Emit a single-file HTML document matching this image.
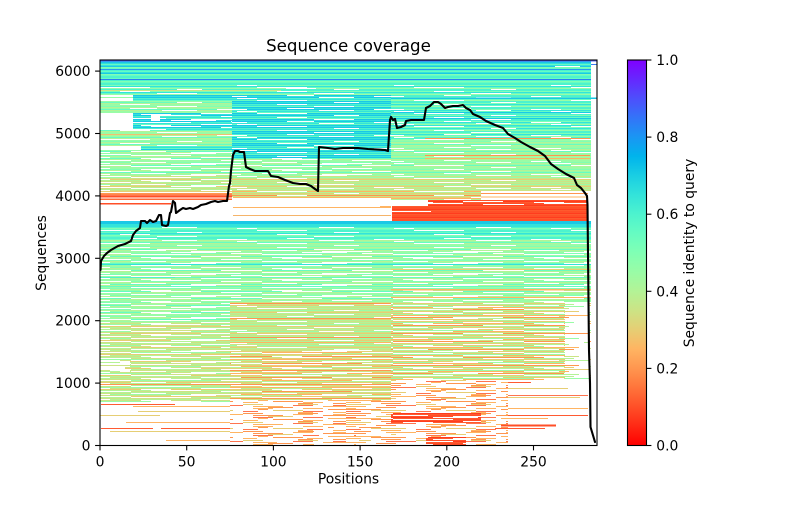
<!DOCTYPE html>
<html>
<head>
<meta charset="utf-8">
<style>
  html, body { margin:0; padding:0; background:#ffffff; }
  body { width:800px; height:500px; overflow:hidden; }
  svg text { font-family: "DejaVu Sans", "Liberation Sans", sans-serif; fill:#000; }
</style>
</head>
<body>
<svg width="800" height="500" viewBox="0 0 800 500" xmlns="http://www.w3.org/2000/svg">
<defs>
  <clipPath id="plotclip"><rect x="100" y="60" width="497" height="385.5"/></clipPath>

  <pattern id="Ptop" width="1" height="7" patternUnits="userSpaceOnUse">
    <rect x="0" y="0" width="1" height="1" fill="#4df3ce"/>
    <rect x="0" y="1" width="1" height="1" fill="#66fcc2"/>
    <rect x="0" y="2" width="1" height="1" fill="#33e3da"/>
    <rect x="0" y="3" width="1" height="1" fill="#4df3ce"/>
    <rect x="0" y="4" width="1" height="1" fill="#80ffb4"/>
    <rect x="0" y="5" width="1" height="1" fill="#66fcc2"/>
    <rect x="0" y="6" width="1" height="1" fill="#4df3ce"/>
  </pattern>
  <pattern id="Pcyan" width="1" height="6" patternUnits="userSpaceOnUse">
    <rect x="0" y="0" width="1" height="1" fill="#33e3da"/>
    <rect x="0" y="1" width="1" height="1" fill="#1ac8e6"/>
    <rect x="0" y="2" width="1" height="1" fill="#4df3ce"/>
    <rect x="0" y="3" width="1" height="1" fill="#33e3da"/>
    <rect x="0" y="4" width="1" height="1" fill="#66fcc2"/>
    <rect x="0" y="5" width="1" height="1" fill="#1ac8e6"/>
  </pattern>
  <pattern id="Paqua" width="1" height="6" patternUnits="userSpaceOnUse">
    <rect x="0" y="0" width="1" height="1" fill="#4df3ce"/>
    <rect x="0" y="1" width="1" height="1" fill="#80ffb4"/>
    <rect x="0" y="2" width="1" height="1" fill="#33e3da"/>
    <rect x="0" y="3" width="1" height="1" fill="#66fcc2"/>
    <rect x="0" y="4" width="1" height="1" fill="#99fca6"/>
    <rect x="0" y="5" width="1" height="1" fill="#4df3ce"/>
  </pattern>
  <pattern id="Pgreen" width="1" height="7" patternUnits="userSpaceOnUse">
    <rect x="0" y="0" width="1" height="1" fill="#99fca6"/>
    <rect x="0" y="1" width="1" height="1" fill="#80ffb4"/>
    <rect x="0" y="2" width="1" height="1" fill="#b3f396"/>
    <rect x="0" y="3" width="1" height="1" fill="#99fca6"/>
    <rect x="0" y="4" width="1" height="1" fill="#66fcc2"/>
    <rect x="0" y="5" width="1" height="1" fill="#b3f396"/>
    <rect x="0" y="6" width="1" height="1" fill="#99fca6"/>
  </pattern>
  <pattern id="Pyg" width="1" height="7" patternUnits="userSpaceOnUse">
    <rect x="0" y="0" width="1" height="1" fill="#b3f396"/>
    <rect x="0" y="1" width="1" height="1" fill="#cce385"/>
    <rect x="0" y="2" width="1" height="1" fill="#99fca6"/>
    <rect x="0" y="3" width="1" height="1" fill="#cce385"/>
    <rect x="0" y="4" width="1" height="1" fill="#e6ce74"/>
    <rect x="0" y="5" width="1" height="1" fill="#b3f396"/>
    <rect x="0" y="6" width="1" height="1" fill="#cce385"/>
  </pattern>
  <pattern id="Ptan" width="1" height="7" patternUnits="userSpaceOnUse">
    <rect x="0" y="0" width="1" height="1" fill="#cce385"/>
    <rect x="0" y="1" width="1" height="1" fill="#e6ce74"/>
    <rect x="0" y="2" width="1" height="1" fill="#ffb462"/>
    <rect x="0" y="3" width="1" height="1" fill="#b3f396"/>
    <rect x="0" y="4" width="1" height="1" fill="#e6ce74"/>
    <rect x="0" y="5" width="1" height="1" fill="#cce385"/>
    <rect x="0" y="6" width="1" height="1" fill="#ff964f"/>
  </pattern>
  <pattern id="Ptan2" width="1" height="8" patternUnits="userSpaceOnUse">
    <rect x="0" y="0" width="1" height="1" fill="#b3f396"/>
    <rect x="0" y="1" width="1" height="1" fill="#e6ce74"/>
    <rect x="0" y="2" width="1" height="1" fill="#99fca6"/>
    <rect x="0" y="3" width="1" height="1" fill="#ffb462"/>
    <rect x="0" y="4" width="1" height="1" fill="#cce385"/>
    <rect x="0" y="5" width="1" height="1" fill="#ff964f"/>
    <rect x="0" y="6" width="1" height="1" fill="#b3f396"/>
    <rect x="0" y="7" width="1" height="1" fill="#e6ce74"/>
  </pattern>
  <pattern id="Porange" width="1" height="6" patternUnits="userSpaceOnUse">
    <rect x="0" y="0" width="1" height="1" fill="#ffb462"/>
    <rect x="0" y="1" width="1" height="1" fill="#ff964f"/>
    <rect x="0" y="2" width="1" height="1" fill="#e6ce74"/>
    <rect x="0" y="3" width="1" height="1" fill="#ff744f"/>
    <rect x="0" y="4" width="1" height="1" fill="#ffb462"/>
    <rect x="0" y="5" width="1" height="1" fill="#ff964f"/>
  </pattern>
  <pattern id="Pred" width="1" height="4" patternUnits="userSpaceOnUse">
    <rect x="0" y="0" width="1" height="1" fill="#ff4f28"/>
    <rect x="0" y="1" width="1" height="1" fill="#ff3c1e"/>
    <rect x="0" y="2" width="1" height="1" fill="#ff5a2e"/>
    <rect x="0" y="3" width="1" height="1" fill="#ff4f28"/>
  </pattern>

  <pattern id="G1" width="157" height="13" patternUnits="userSpaceOnUse">
    <g fill="#ffffff">
      <rect x="0" y="2" width="40" height="1"/>
      <rect x="60" y="5" width="30" height="1"/>
      <rect x="100" y="9" width="50" height="1"/>
      <rect x="20" y="11" width="25" height="1"/>
      <rect x="120" y="0" width="30" height="1"/>
      <rect x="80" y="7" width="20" height="1"/>
      <rect x="130" y="4" width="27" height="1"/>
      <rect x="5" y="6" width="35" height="1"/>
    </g>
  </pattern>
  <pattern id="G2" width="131" height="11" patternUnits="userSpaceOnUse">
    <g fill="#ffffff">
      <rect x="0" y="1" width="60" height="1"/>
      <rect x="70" y="3" width="40" height="1"/>
      <rect x="20" y="5" width="50" height="1"/>
      <rect x="90" y="6" width="41" height="1"/>
      <rect x="0" y="8" width="35" height="1"/>
      <rect x="60" y="9" width="50" height="1"/>
      <rect x="100" y="0" width="31" height="1"/>
      <rect x="40" y="10" width="45" height="1"/>
      <rect x="10" y="4" width="30" height="1"/>
    </g>
  </pattern>
  <pattern id="G3" width="173" height="9" patternUnits="userSpaceOnUse">
    <g fill="#ffffff">
      <rect x="0" y="0" width="40" height="1"/><rect x="70" y="0" width="50" height="1"/><rect x="140" y="0" width="20" height="1"/>
      <rect x="20" y="1" width="60" height="1"/><rect x="110" y="1" width="40" height="1"/>
      <rect x="0" y="2" width="30" height="1"/><rect x="50" y="2" width="45" height="1"/><rect x="120" y="2" width="53" height="1"/>
      <rect x="10" y="3" width="70" height="1"/><rect x="100" y="3" width="30" height="1"/><rect x="150" y="3" width="23" height="1"/>
      <rect x="35" y="4" width="50" height="1"/><rect x="95" y="4" width="60" height="1"/>
      <rect x="0" y="5" width="25" height="1"/><rect x="60" y="5" width="40" height="1"/><rect x="130" y="5" width="43" height="1"/>
      <rect x="15" y="6" width="55" height="1"/><rect x="85" y="6" width="45" height="1"/><rect x="150" y="6" width="23" height="1"/>
      <rect x="0" y="7" width="35" height="1"/><rect x="55" y="7" width="70" height="1"/><rect x="140" y="7" width="20" height="1"/>
      <rect x="25" y="8" width="45" height="1"/><rect x="90" y="8" width="35" height="1"/><rect x="145" y="8" width="28" height="1"/>
    </g>
  </pattern>

  <linearGradient id="cbar" x1="0" y1="1" x2="0" y2="0">
    <stop offset="0" stop-color="rgb(255,0,0)"/>
    <stop offset="0.05" stop-color="rgb(255,40,20)"/>
    <stop offset="0.1" stop-color="rgb(255,79,40)"/>
    <stop offset="0.15" stop-color="rgb(255,116,59)"/>
    <stop offset="0.2" stop-color="rgb(255,150,79)"/>
    <stop offset="0.25" stop-color="rgb(255,180,98)"/>
    <stop offset="0.3" stop-color="rgb(230,206,116)"/>
    <stop offset="0.35" stop-color="rgb(204,227,133)"/>
    <stop offset="0.4" stop-color="rgb(179,243,150)"/>
    <stop offset="0.45" stop-color="rgb(153,252,166)"/>
    <stop offset="0.5" stop-color="rgb(128,255,180)"/>
    <stop offset="0.55" stop-color="rgb(102,252,194)"/>
    <stop offset="0.6" stop-color="rgb(77,243,206)"/>
    <stop offset="0.65" stop-color="rgb(51,227,218)"/>
    <stop offset="0.7" stop-color="rgb(26,206,227)"/>
    <stop offset="0.75" stop-color="rgb(0,180,236)"/>
    <stop offset="0.8" stop-color="rgb(26,150,243)"/>
    <stop offset="0.85" stop-color="rgb(51,116,248)"/>
    <stop offset="0.9" stop-color="rgb(77,79,252)"/>
    <stop offset="0.95" stop-color="rgb(102,40,254)"/>
    <stop offset="1" stop-color="rgb(128,0,255)"/>
  </linearGradient>
</defs>

<rect x="0" y="0" width="800" height="500" fill="#ffffff"/>

<g clip-path="url(#plotclip)" shape-rendering="crispEdges">
  <!-- TOP BAND -->
  <rect x="100" y="60" width="497" height="1.5" fill="#5560f7"/>
  <rect x="100" y="61.5" width="491" height="2" fill="#1ac8e6"/>
  <rect x="100" y="63.5" width="491" height="21.5" fill="url(#Ptop)"/>
  <rect x="100" y="66" width="491" height="1" fill="#1ac8e6"/>
  <rect x="100" y="69" width="491" height="1" fill="#2a96f0"/>
  <rect x="100" y="73" width="491" height="1" fill="#1ac8e6"/>
  <rect x="100" y="79" width="491" height="1" fill="#2a80f0"/>
  <rect x="591" y="64" width="6" height="1" fill="#3a7af2"/>
  <rect x="100" y="85" width="491" height="10" fill="url(#Paqua)"/>
  <rect x="100" y="85" width="491" height="10" fill="url(#G1)"/>
  <rect x="100" y="90" width="181" height="1" fill="#cce385"/>
  <rect x="286" y="88" width="30" height="1" fill="#ffffff"/>
  <rect x="555" y="66" width="25" height="1" fill="#ffffff"/>

  <!-- UPPER LEFT BLOCK (pos 0-76) -->
  <rect x="100" y="95" width="33" height="6" fill="#ffffff"/>
  <rect x="100" y="97" width="33" height="1" fill="#99fca6"/>
  <rect x="133" y="95" width="99" height="6" fill="url(#Pcyan)"/>
  <rect x="100" y="101" width="132" height="12" fill="url(#Pgreen)"/>
  <rect x="100" y="101" width="132" height="12" fill="url(#G1)"/>
  <rect x="100" y="113" width="33" height="17" fill="#ffffff"/>
  <rect x="133" y="113" width="99" height="17" fill="url(#Pcyan)"/>
  <rect x="133" y="113" width="99" height="17" fill="url(#G2)"/>
  <rect x="151" y="115" width="9" height="6" fill="#ffffff"/>
  <rect x="100" y="130" width="132" height="16" fill="url(#Pgreen)"/>
  <rect x="100" y="130" width="132" height="16" fill="url(#G1)"/>
  <rect x="100" y="134" width="132" height="1" fill="#f0c070"/>
  <rect x="100" y="146" width="41" height="4" fill="#ffffff"/>
  <rect x="141" y="146" width="91" height="4" fill="url(#Pcyan)"/>
  <rect x="100" y="150" width="132" height="25" fill="url(#Pgreen)"/>
  <rect x="100" y="150" width="132" height="25" fill="url(#G2)"/>
  <rect x="100" y="175" width="132" height="16" fill="url(#Pyg)"/>
  <rect x="100" y="175" width="132" height="16" fill="url(#G2)"/>
  <rect x="100" y="191" width="136" height="2" fill="#ffffff"/>
  <rect x="100" y="191" width="136" height="1" fill="#e6ce74"/>
  <rect x="100" y="193" width="136" height="1.5" fill="#ff964f"/>
  <rect x="100" y="194.5" width="136" height="1.5" fill="#ff744f"/>
  <rect x="100" y="196" width="136" height="1.5" fill="#ff4f28"/>
  <rect x="100" y="198.5" width="136" height="1.5" fill="#ff6a3a"/>
  <rect x="100" y="200" width="132" height="21" fill="#ffffff"/>
  <rect x="100" y="203" width="71" height="1.5" fill="#ff4f28"/>

  <!-- MIDDLE (pos 76-168) -->
  <rect x="232" y="95" width="159" height="63" fill="url(#Pcyan)"/>
  <rect x="232" y="95" width="159" height="63" fill="url(#G1)"/>
  <rect x="232" y="158" width="159" height="18" fill="url(#Pgreen)"/>
  <rect x="232" y="158" width="159" height="18" fill="url(#G2)"/>
  <rect x="232" y="176" width="159" height="15" fill="url(#Pyg)"/>
  <rect x="232" y="176" width="159" height="15" fill="url(#G1)"/>
  <rect x="232" y="191" width="159" height="6" fill="url(#Ptan)"/>
  <rect x="232" y="191" width="159" height="6" fill="url(#G1)"/>
  <rect x="232" y="197" width="159" height="24" fill="#ffffff"/>
  <rect x="233" y="197" width="158" height="1" fill="#ffb462"/>
  <rect x="233" y="207" width="158" height="1" fill="#ffb462"/>
  <rect x="233" y="215" width="158" height="1" fill="#f5b46a"/>

  <!-- RIGHT (pos 168-283) -->
  <rect x="391" y="95" width="200" height="45" fill="url(#Paqua)"/>
  <rect x="391" y="95" width="200" height="45" fill="url(#G1)"/>
  <rect x="391" y="97.5" width="206" height="1.5" fill="#1ac8e6"/>
  <rect x="391" y="112" width="200" height="1" fill="#1ac8e6"/>
  <rect x="391" y="118" width="200" height="1" fill="#1ac8e6"/>
  <rect x="391" y="125" width="200" height="1" fill="#33e3da"/>
  <rect x="391" y="140" width="200" height="36" fill="url(#Pgreen)"/>
  <rect x="391" y="140" width="200" height="36" fill="url(#G1)"/>
  <rect x="425" y="138" width="165" height="1" fill="#ff964f"/>
  <rect x="425" y="155" width="165" height="1" fill="#ff964f"/>
  <rect x="425" y="158" width="165" height="1" fill="#ffb462"/>
  <rect x="391" y="176" width="200" height="15" fill="url(#Pyg)"/>
  <rect x="391" y="176" width="200" height="15" fill="url(#G1)"/>
  <rect x="391" y="191" width="90" height="9" fill="url(#Ptan)"/>
  <rect x="391" y="191" width="90" height="9" fill="url(#G1)"/>
  <rect x="481" y="191" width="110" height="9" fill="#ffffff"/>
  <rect x="481" y="193" width="107" height="1" fill="#ff964f"/>
  <rect x="481" y="196.5" width="107" height="1" fill="#ffb462"/>
  <rect x="391" y="200" width="37" height="6" fill="#ffffff"/>
  <rect x="428" y="200" width="160" height="6" fill="url(#Pred)"/>
  <rect x="428" y="200" width="160" height="6" fill="url(#G2)"/>
  <rect x="392" y="206" width="196" height="15" fill="url(#Pred)"/>
  <rect x="588" y="200" width="3" height="21" fill="#ffffff"/>
  <rect x="391" y="211" width="40" height="1" fill="#ffffff"/>
  <rect x="380" y="206" width="11" height="1" fill="#ffb462"/>

  <!-- CYAN BAND -->
  <rect x="100" y="221" width="491" height="3" fill="#1ac8e6"/>
  <rect x="100" y="224" width="491" height="3" fill="#33e3da"/>
  <rect x="100" y="227" width="491" height="23" fill="url(#Ptop)"/>
  <rect x="100" y="227" width="491" height="23" fill="url(#G1)"/>
  <rect x="100" y="240" width="491" height="10" fill="url(#Pgreen)"/>
  <rect x="100" y="240" width="491" height="10" fill="url(#G1)"/>

  <!-- LOWER -->
  <rect x="100" y="250" width="491" height="14" fill="url(#Pgreen)"/>
  <rect x="100" y="250" width="491" height="14" fill="url(#G2)"/>
  <rect x="100" y="264" width="491" height="1" fill="#33e3da"/>
  <rect x="100" y="265" width="491" height="37" fill="url(#Pgreen)"/>
  <rect x="100" y="265" width="491" height="37" fill="url(#G2)"/>
  <rect x="100" y="277" width="75" height="1" fill="#4df3ce"/>
  <rect x="100" y="286" width="491" height="1" fill="#66fcc2"/>
  <rect x="391" y="289" width="200" height="1.5" fill="#ffb462"/>
  <rect x="391" y="297" width="200" height="1" fill="#ffb462"/>
  <rect x="391" y="269" width="200" height="1" fill="#e6ce74"/>

  <rect x="100" y="302" width="130" height="20" fill="url(#Pgreen)"/>
  <rect x="100" y="302" width="130" height="20" fill="url(#G2)"/>
  <rect x="100" y="322" width="130" height="28" fill="url(#Pyg)"/>
  <rect x="100" y="322" width="130" height="28" fill="url(#G2)"/>
  <rect x="230" y="302" width="161" height="48" fill="url(#Pyg)"/>
  <rect x="230" y="302" width="161" height="48" fill="url(#G1)"/>
  <rect x="230" y="303" width="161" height="1" fill="#ff964f"/>
  <rect x="230" y="318" width="161" height="1" fill="#ff964f"/>
  <rect x="230" y="337" width="161" height="1" fill="#ff964f"/>
  <rect x="230" y="342" width="161" height="1" fill="#ffb462"/>
  <rect x="391" y="302" width="200" height="78" fill="url(#Ptan2)"/>
  <rect x="391" y="302" width="200" height="78" fill="url(#G2)"/>
  <rect x="565" y="302" width="26" height="78" fill="url(#G3)"/>

  <rect x="100" y="350" width="130" height="33" fill="url(#Pyg)"/>
  <rect x="100" y="350" width="130" height="33" fill="url(#G2)"/>
  <rect x="100" y="360" width="30" height="12" fill="url(#G3)"/>
  <rect x="230" y="350" width="161" height="50" fill="url(#Ptan)"/>
  <rect x="230" y="350" width="161" height="50" fill="url(#G2)"/>
  <rect x="100" y="383" width="130" height="19" fill="url(#Pyg)"/>
  <rect x="100" y="383" width="130" height="19" fill="url(#G2)"/>
  <rect x="100" y="384" width="291" height="1.2" fill="#ff964f"/>

  <!-- sparse lower-left -->
  <rect x="100" y="402" width="130" height="44" fill="#ffffff"/>
  <rect x="101" y="404" width="74" height="1" fill="#ff5a32"/>
  <rect x="133" y="406" width="97" height="1" fill="#ffb462"/>
  <rect x="138" y="411" width="92" height="1" fill="#e6ce74"/>
  <rect x="126" y="422" width="104" height="1" fill="#ffb462"/>
  <rect x="101" y="428" width="52" height="1" fill="#ff5a32"/>
  <rect x="161" y="428" width="70" height="1" fill="#ff5a32"/>
  <rect x="110" y="431" width="120" height="1" fill="#e6ce74"/>
  <rect x="166" y="440" width="64" height="1" fill="#ffb462"/>
  <rect x="100" y="415" width="60" height="1" fill="#e6ce74"/>

  <!-- sparse lower-middle -->
  <rect x="230" y="400" width="161" height="46" fill="url(#Porange)"/>
  <rect x="230" y="400" width="161" height="46" fill="url(#G3)"/>
  <rect x="230" y="425" width="161" height="21" fill="url(#G1)"/>

  <!-- lower-right -->
  <rect x="391" y="380" width="117" height="66" fill="url(#Porange)"/>
  <rect x="391" y="380" width="117" height="66" fill="url(#G3)"/>
  <rect x="391" y="413" width="90" height="10" fill="url(#Pred)"/>
  <rect x="391" y="413" width="90" height="10" fill="url(#G2)"/>
  <rect x="426" y="437" width="40" height="9" fill="url(#Pred)"/>
  <rect x="426" y="437" width="40" height="9" fill="url(#G2)"/>
  <rect x="508" y="380" width="83" height="66" fill="#ffffff"/>
  <rect x="508" y="382" width="23" height="1" fill="#ff5a32"/>
  <rect x="508" y="395" width="80" height="1" fill="#ff744f"/>
  <rect x="508" y="397" width="72" height="1" fill="#e6ce74"/>
  <rect x="508" y="408" width="80" height="1" fill="#ffb462"/>
  <rect x="508" y="415" width="80" height="1" fill="#ff5a32"/>
  <rect x="508" y="418" width="40" height="1" fill="#ffb462"/>
  <rect x="501" y="424.5" width="55" height="2" fill="#ff4f28"/>
  <rect x="495" y="428" width="50" height="1" fill="#ff5a32"/>
  <rect x="508" y="388" width="60" height="1" fill="#e6ce74"/>
</g>

<!-- coverage line -->
<polyline fill="none" stroke="#000000" stroke-width="2.1" stroke-linejoin="round" stroke-linecap="round"
 points="100.5,270 101,261 104,256 107,253 111,250 118,246 125,244 131,241 133,235 136,231 140,228 141,221 145,221 147,223 150,220 153,222 156,221 159,215 161,215 162,225 166,226 168,225 170,213 171,212 173,201 175,203 176,213 180,210 183,208 186,209 190,208 193,209 198,207 201,205 206,204 211,202 215,201 218,202 223,201 227,201 229,186 230,183 231,171 233,155 235,151 238,151 240,152 244,152 246,167 250,169 255,171 261,171 268,171 271,176 278,177 285,180 293,183 300,184 306,184 311,186 315,189 318,191 319,147 328,148 335,149 343,148 358,148 368,149 385,150 388,151 390,120 391,117 393,120 395,119 397,128 401,127 405,125 406,121 411,120 424,120 426,108 430,106 434,102 438,102 441,104 445,108 448,107 453,106 458,106 463,105 466,108 470,110 473,114 480,117 486,121 495,125 503,128 508,134 515,138 521,142 530,147 538,151 545,156 551,164 558,169 566,174 574,178 577,185 581,188 585,193 587,196 587.5,205 588,253 589,350 590,383 590.5,427 595,442"/>

<!-- axes frame -->
<rect x="100" y="60" width="497" height="385.5" fill="none" stroke="#000" stroke-width="1.1"/>

<!-- ticks -->
<g stroke="#000" stroke-width="1.1">
  <line x1="100" y1="445.5" x2="100" y2="450.4"/>
  <line x1="186.7" y1="445.5" x2="186.7" y2="450.4"/>
  <line x1="273.4" y1="445.5" x2="273.4" y2="450.4"/>
  <line x1="360.1" y1="445.5" x2="360.1" y2="450.4"/>
  <line x1="446.8" y1="445.5" x2="446.8" y2="450.4"/>
  <line x1="533.5" y1="445.5" x2="533.5" y2="450.4"/>
  <line x1="95.1" y1="445.5" x2="100" y2="445.5"/>
  <line x1="95.1" y1="383.1" x2="100" y2="383.1"/>
  <line x1="95.1" y1="320.7" x2="100" y2="320.7"/>
  <line x1="95.1" y1="258.3" x2="100" y2="258.3"/>
  <line x1="95.1" y1="195.9" x2="100" y2="195.9"/>
  <line x1="95.1" y1="133.5" x2="100" y2="133.5"/>
  <line x1="95.1" y1="71.1" x2="100" y2="71.1"/>
</g>
<g font-size="13.89" text-anchor="middle">
  <text x="100" y="466.5">0</text>
  <text x="186.7" y="466.5">50</text>
  <text x="273.4" y="466.5">100</text>
  <text x="360.1" y="466.5">150</text>
  <text x="446.8" y="466.5">200</text>
  <text x="533.5" y="466.5">250</text>
</g>
<g font-size="13.89" text-anchor="end">
  <text x="90.5" y="450.5">0</text>
  <text x="90.5" y="388.1">1000</text>
  <text x="90.5" y="325.7">2000</text>
  <text x="90.5" y="263.3">3000</text>
  <text x="90.5" y="200.9">4000</text>
  <text x="90.5" y="138.5">5000</text>
  <text x="90.5" y="76.1">6000</text>
</g>
<text x="348.5" y="483.6" font-size="13.89" text-anchor="middle">Positions</text>
<text transform="translate(46,253) rotate(-90)" font-size="13.89" text-anchor="middle">Sequences</text>
<text x="348.5" y="51.7" font-size="16.67" text-anchor="middle">Sequence coverage</text>

<!-- colorbar -->
<rect x="627.5" y="60" width="19" height="385.5" fill="url(#cbar)"/>
<rect x="627.5" y="60" width="19" height="385.5" fill="none" stroke="#000" stroke-width="1.1"/>
<g stroke="#000" stroke-width="1.1">
  <line x1="646.5" y1="445.5" x2="651.4" y2="445.5"/>
  <line x1="646.5" y1="368.4" x2="651.4" y2="368.4"/>
  <line x1="646.5" y1="291.3" x2="651.4" y2="291.3"/>
  <line x1="646.5" y1="214.2" x2="651.4" y2="214.2"/>
  <line x1="646.5" y1="137.1" x2="651.4" y2="137.1"/>
  <line x1="646.5" y1="60" x2="651.4" y2="60"/>
</g>
<g font-size="13.89" text-anchor="start">
  <text x="656.3" y="450.5">0.0</text>
  <text x="656.3" y="373.4">0.2</text>
  <text x="656.3" y="296.3">0.4</text>
  <text x="656.3" y="219.2">0.6</text>
  <text x="656.3" y="142.1">0.8</text>
  <text x="656.3" y="65">1.0</text>
</g>
<text transform="translate(694,253) rotate(-90)" font-size="13.89" text-anchor="middle">Sequence identity to query</text>
</svg>
</body>
</html>
